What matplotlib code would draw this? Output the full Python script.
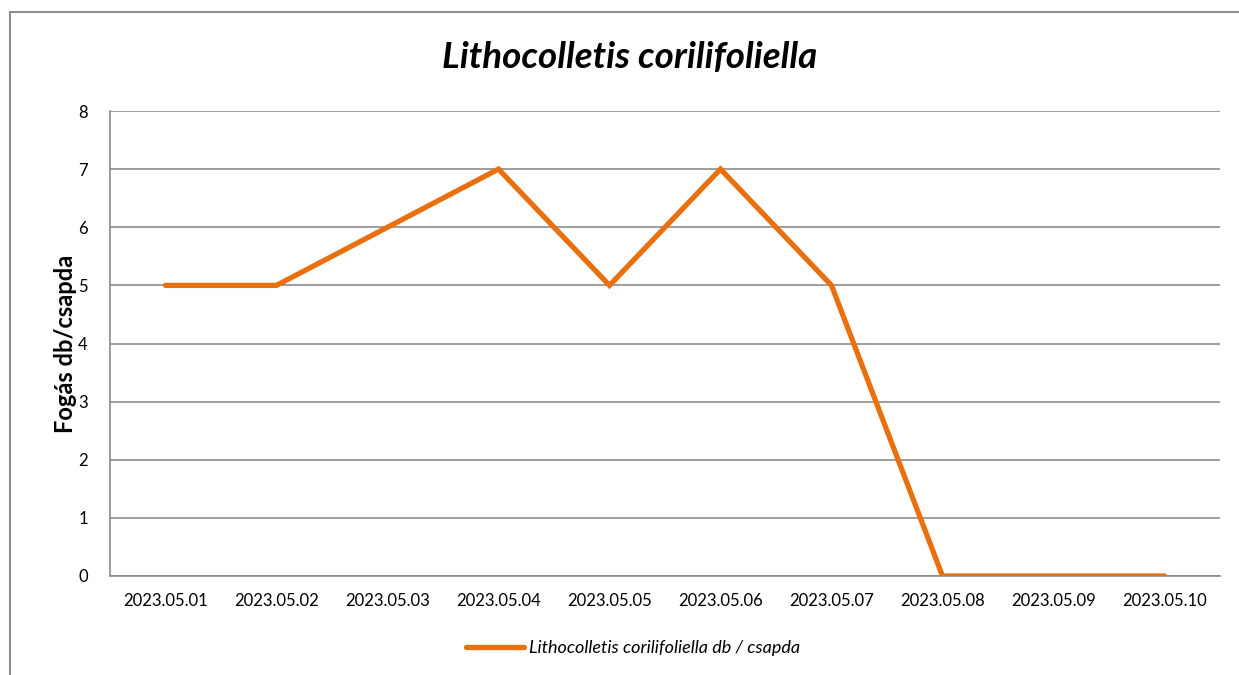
import matplotlib.pyplot as plt
from matplotlib.lines import Line2D

# data
dates = ["2023.05.01", "2023.05.02", "2023.05.03", "2023.05.04", "2023.05.05",
         "2023.05.06", "2023.05.07", "2023.05.08", "2023.05.09", "2023.05.10"]
catch = [5, 5, 6, 7, 5, 7, 5, 0, 0, 0]
series_name = "Lithocolletis corilifoliella db / csapda"

plt.rcParams['font.family'] = ['Lato', 'DejaVu Sans']

W, H = 1239, 675
fig = plt.figure(figsize=(W / 100, H / 100), dpi=100)
ax = fig.add_axes([110 / W, 1 - 576 / H, (1220 - 110) / W, (576 - 111) / H])

x = list(range(len(dates)))
ax.plot(x, catch, color='#E8700E', linewidth=3.8, solid_capstyle='round',
        solid_joinstyle='miter', label=series_name, zorder=3)

ax.set_xlim(-0.5, len(dates) - 0.5)
ax.set_ylim(0, 8)
ax.set_yticks(range(0, 9))
ax.set_xticks(x)
ax.set_xticklabels(dates)
ax.tick_params(axis='both', length=0, labelsize=12, colors='black')
ax.tick_params(axis='x', pad=12)
ax.tick_params(axis='y', pad=16)
ax.grid(axis='y', color='#8c8c8c', linewidth=1.2)
ax.set_axisbelow(True)
for s in ['top', 'right']:
    ax.spines[s].set_visible(False)
ax.spines['left'].set_color('#8c8c8c')
ax.spines['bottom'].set_color('#8c8c8c')
ax.spines['left'].set_linewidth(1.2)
ax.spines['bottom'].set_linewidth(1.2)

ax.set_ylabel("Fogás db/csapda", fontsize=17, fontweight='bold', labelpad=1)
fig.text(630 / W, 1 - 57 / H, "Lithocolletis corilifoliella", ha='center', va='center',
         fontsize=26.5, fontweight='bold', style='italic')

leg = fig.legend(loc='center', bbox_to_anchor=(633 / W, 1 - 648 / H), frameon=False,
                 prop={'style': 'italic', 'size': 13}, handlelength=3.2, handletextpad=0.3)

# outer chart frame (left and top edges)
fig.add_artist(Line2D([10 / W, 10 / W], [0, 1 - 12 / H], color='#8c8c8c', linewidth=1.5,
                      transform=fig.transFigure))
fig.add_artist(Line2D([10 / W, 1], [1 - 12 / H, 1 - 12 / H], color='#8c8c8c', linewidth=1.5,
                      transform=fig.transFigure))

plt.savefig('out.png', dpi=100)
